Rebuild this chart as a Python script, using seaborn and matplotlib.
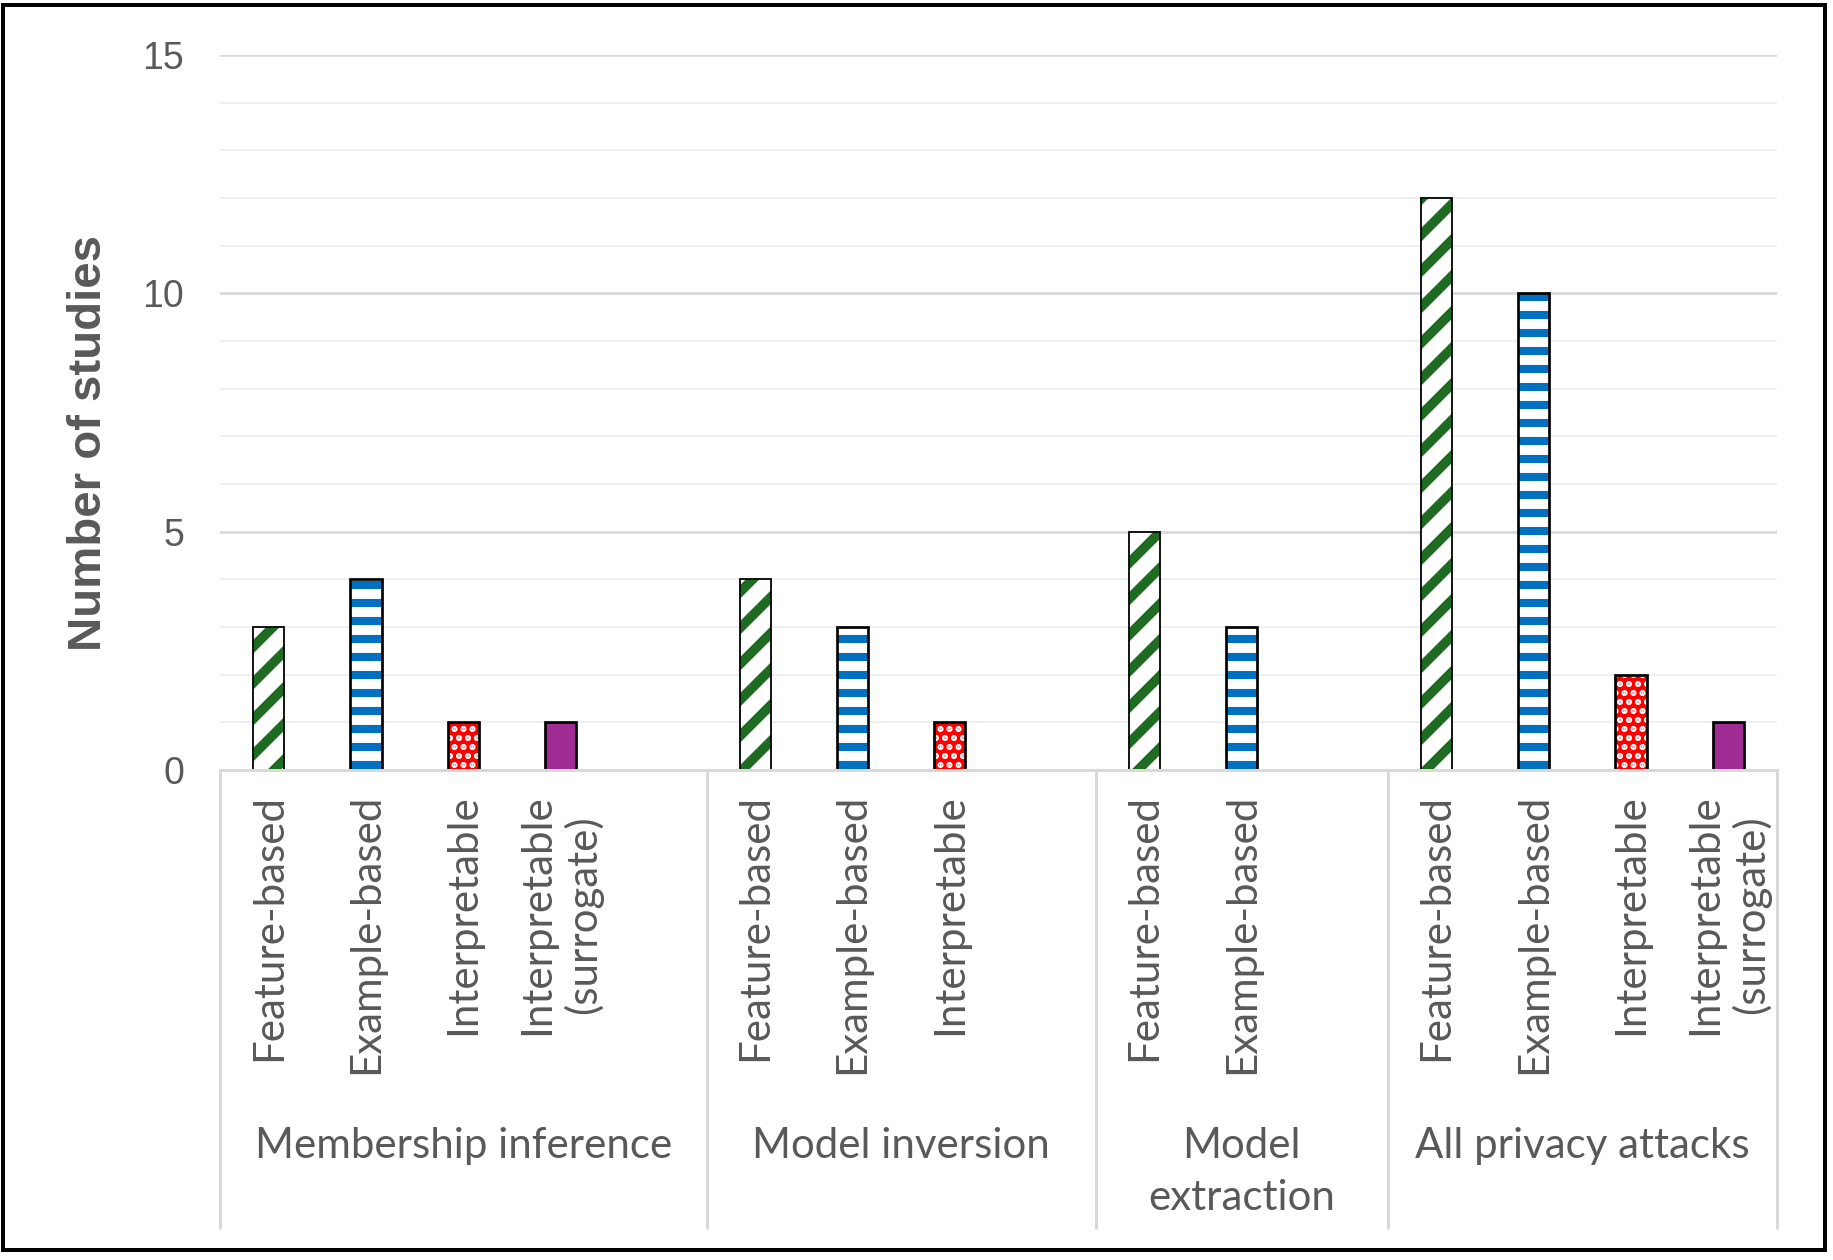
import matplotlib
matplotlib.use('Agg')
import matplotlib.pyplot as plt
import matplotlib.transforms as mtransforms
from matplotlib.patches import Rectangle
from matplotlib.lines import Line2D
from matplotlib.ticker import MultipleLocator
import seaborn as sns
import pandas as pd

# data
groups = ['Membership inference', 'Model inversion', 'Model\nextraction', 'All privacy attacks']
methods = ['Feature-based', 'Example-based', 'Interpretable', 'Interpretable\n(surrogate)']
membership_counts = [3, 4, 1, 1]
inversion_counts = [4, 3, 1]
extraction_counts = [5, 3]
all_attacks_counts = [12, 10, 2, 1]
blank_slots = [1, 1, 1, 0]  # empty categories left at the end of each group

GREY = '#595959'
LINE = '#D9D9D9'

styles = {
    'Feature-based': dict(face='white', hatch='//', hcolor='#1E6B22', hlw=3.2, elw=0.6),
    'Example-based': dict(face='white', hatch='--', hcolor='#0070C0', hlw=2.7, elw=0.9),
    'Interpretable': dict(face='#FF0000', hatch='....', hcolor='white', hlw=1.4, elw=0.9),
    'Interpretable\n(surrogate)': dict(face='#A02B93', hatch='', hcolor='#A02B93', hlw=1.0, elw=0.9),
}

# build the slot table (one slot per category, blanks included)
rows = []
slot_order = []
slot_labels = []
group_spans = []
all_counts = [membership_counts, inversion_counts, extraction_counts, all_attacks_counts]
for g, (name, counts, blanks) in enumerate(zip(groups, all_counts, blank_slots)):
    start = len(slot_order)
    for m, c in zip(methods, counts):
        key = f'{g}-{m}'
        slot_order.append(key)
        slot_labels.append(m)
        rows.append({'slot': key, 'method': m, 'count': c})
    for b in range(blanks):
        slot_order.append(f'{g}-blank{b}')
        slot_labels.append('')
    group_spans.append((start, len(slot_order)))
df = pd.DataFrame(rows)

sns.set_theme(style='white')
plt.rcParams['font.family'] = ['Lato', 'DejaVu Sans']
plt.rcParams['hatch.linewidth'] = 2.7

W, H, DPI = 1833, 1260, 216
fig = plt.figure(figsize=(W / DPI, H / DPI), dpi=DPI)
fig.patch.set_facecolor('white')
ax = fig.add_axes([220 / W, 1 - 770 / H, 1557 / W, 715 / H])

sns.barplot(data=df, x='slot', y='count', order=slot_order, width=0.32,
            errorbar=None, color='white', ax=ax)

bars = list(ax.patches)
for p in bars:
    idx = int(round(p.get_x() + p.get_width() / 2))
    st = styles[slot_labels[idx]]
    p.set_facecolor(st['face'])
    p.set_edgecolor(st['hcolor'])
    p.set_hatch(st['hatch'])
    p.set_linewidth(0)
    if hasattr(p, 'set_hatch_linewidth'):
        p.set_hatch_linewidth(st['hlw'])
    ax.add_patch(Rectangle((p.get_x(), p.get_y()), p.get_width(), p.get_height(),
                           fill=False, edgecolor='black', lw=st['elw'],
                           zorder=p.get_zorder() + 0.1))

ax.set_xlim(-0.5, len(slot_order) - 0.5)
ax.set_ylim(0, 15)
ax.set_yticks([0, 5, 10, 15])
ax.yaxis.set_minor_locator(MultipleLocator(1))
ax.grid(axis='y', which='major', color=LINE, lw=0.9)
ax.grid(axis='y', which='minor', color='#F0F0F0', lw=0.7)
ax.set_axisbelow(True)
for s in ['top', 'right', 'left']:
    ax.spines[s].set_visible(False)
ax.spines['bottom'].set_color(LINE)
ax.spines['bottom'].set_linewidth(1.0)

ax.tick_params(axis='both', which='both', length=0)
ax.tick_params(axis='y', pad=12, labelsize=12.5, labelcolor=GREY)
for t in ax.get_yticklabels():
    t.set_fontfamily('Liberation Sans')
ax.set_xticks(range(len(slot_order)))
ax.set_xticklabels(slot_labels, rotation=90, fontsize=14, color=GREY, ha='center', va='top')
ax.tick_params(axis='x', pad=8)
ax.set_xlabel('')
ax.set_ylabel('Number of studies', fontsize=15.8, fontweight='bold', color=GREY,
              fontfamily='Liberation Sans')
ax.yaxis.set_label_coords(-0.070, 0.457)

# group separators and group names under the tick labels
trans = mtransforms.blended_transform_factory(ax.transData, fig.transFigure)
edges = [s - 0.5 for s, e in group_spans] + [group_spans[-1][1] - 0.5]
for b in edges:
    fig.add_artist(Line2D([b, b], [1 - 1228 / H, 1 - 770 / H], transform=trans,
                          color=LINE, lw=1.0))
for name, (s, e) in zip(groups, group_spans):
    ax.text((s + e) / 2 - 0.5, 1 - 1127 / H, name, transform=trans, ha='center', va='top',
            fontsize=14, color=GREY, linespacing=1.45)

# outer frame
fig.add_artist(Rectangle((3 / W, 10 / H), 1822 / W, 1245 / H, transform=fig.transFigure,
                         fill=False, edgecolor='black', lw=1.33))

fig.savefig('out.png', dpi=DPI)
